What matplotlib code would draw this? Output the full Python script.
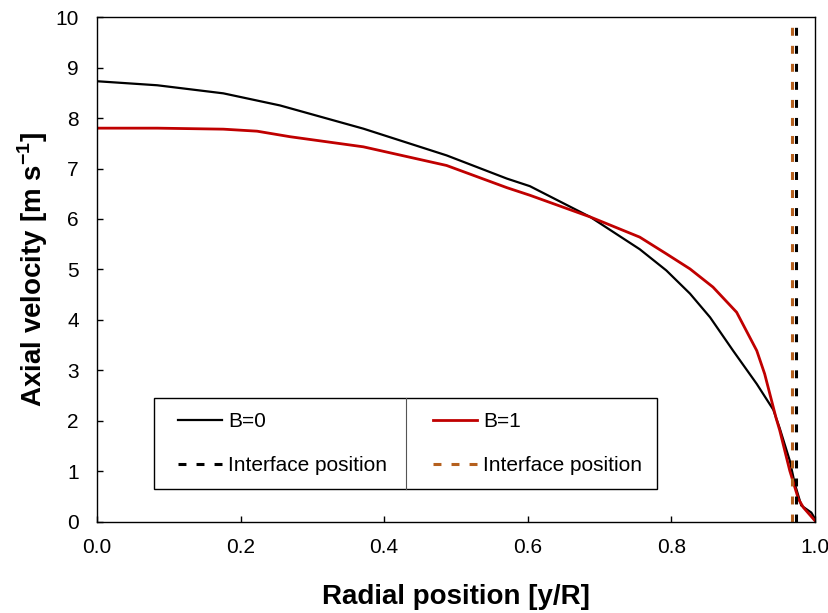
import matplotlib
matplotlib.use("Agg")
import matplotlib.pyplot as plt
from matplotlib.lines import Line2D
from matplotlib.patches import Rectangle

plt.rcParams['font.family'] = ['Liberation Sans', 'DejaVu Sans']
plt.rcParams['mathtext.fontset'] = 'custom'
plt.rcParams['mathtext.rm'] = 'Liberation Sans'
plt.rcParams['mathtext.bf'] = 'Liberation Sans:bold'

# B=0 velocity profile
x_b0 = [0.0, 0.084, 0.176, 0.255, 0.371, 0.487, 0.571, 0.603, 0.687, 0.756,
        0.793, 0.826, 0.854, 0.886, 0.919, 0.942, 0.951, 0.965, 0.972, 0.981,
        0.988, 0.995, 1.0]
v_b0 = [8.73, 8.65, 8.49, 8.25, 7.79, 7.26, 6.80, 6.65, 6.04, 5.40,
        4.98, 4.52, 4.05, 3.39, 2.73, 2.22, 1.85, 1.21, 0.75, 0.32,
        0.25, 0.18, 0.06]

# B=1 velocity profile
x_b1 = [0.0, 0.084, 0.176, 0.223, 0.269, 0.371, 0.487, 0.571, 0.603, 0.687,
        0.756, 0.793, 0.826, 0.858, 0.891, 0.919, 0.930, 0.946, 0.951, 0.965,
        0.977, 0.984, 1.0]
v_b1 = [7.80, 7.80, 7.78, 7.74, 7.63, 7.43, 7.06, 6.62, 6.47, 6.04,
        5.64, 5.31, 5.01, 4.65, 4.15, 3.39, 2.93, 2.05, 1.81, 1.01,
        0.45, 0.28, 0.02]

# interface positions
iface_b0 = 0.973
iface_b1 = 0.9675

black = 'black'
red = '#C00000'
brown = '#B5601E'

fig = plt.figure(figsize=(8.29, 6.13), dpi=100)
ax = fig.add_axes([0.117, 0.149, 0.866, 0.823])

ax.plot(x_b0, v_b0, color=black, lw=1.6)
ax.plot(x_b1, v_b1, color=red, lw=2.0)
dash = (2.6, 3.3)
ax.axvline(iface_b1, color=brown, lw=2.2, dashes=dash)
ax.axvline(iface_b0, color=black, lw=2.2, dashes=dash)

ax.set_xlim(0, 1)
ax.set_ylim(0, 10)
ax.set_xticks([0.0, 0.2, 0.4, 0.6, 0.8, 1.0])
ax.set_xticklabels(['0.0', '0.2', '0.4', '0.6', '0.8', '1.0'])
ax.set_yticks(range(11))
ax.tick_params(direction='in', length=4, width=1, labelsize=15)
ax.tick_params(axis='x', pad=12)
ax.tick_params(axis='y', pad=13)
for s in ax.spines.values():
    s.set_linewidth(1.0)

ax.set_xlabel('Radial position [y/R]', fontsize=20, fontweight='bold', labelpad=19)
ax.set_ylabel('Axial velocity [m s$^{\\mathbf{-1}}$]', fontsize=20,
              fontweight='bold', labelpad=4)

# legend box with a divider between the two columns
ax.add_patch(Rectangle((0.079, 0.065), 0.701, 0.181, transform=ax.transAxes,
                       facecolor='white', edgecolor='black', lw=1.0, zorder=9))
ax.plot([0.430, 0.430], [0.065, 0.246], transform=ax.transAxes, color='#555555',
        lw=0.8, zorder=10)

handles = [Line2D([], [], color=black, lw=1.6),
           Line2D([], [], color=black, lw=2.2, dashes=dash),
           Line2D([], [], color=red, lw=2.0),
           Line2D([], [], color=brown, lw=2.2, dashes=dash)]
labels = ['B=0', 'Interface position', 'B=1', 'Interface position']
leg = ax.legend(handles, labels, ncol=2, loc='center left',
                bbox_to_anchor=(0.1128, 0.155),
                fontsize=15, frameon=False, borderpad=0, labelspacing=1.2,
                handlelength=2.1, handletextpad=0.3, borderaxespad=0,
                columnspacing=2.2)
leg.set_zorder(11)

fig.savefig('out.png', dpi=100)
